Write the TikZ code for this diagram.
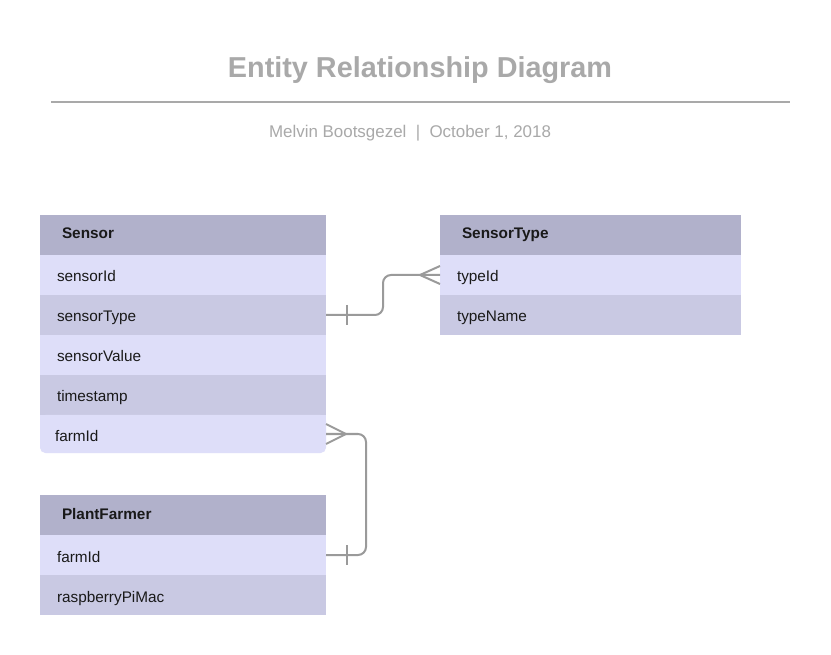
\documentclass[tikz,border=0pt]{standalone}
\usepackage{fontspec}
\setmainfont{Liberation Sans}
\usetikzlibrary{positioning, calc}
\definecolor{hdrblue}{HTML}{B1B1CB}
\definecolor{rowlight}{HTML}{DEDEF9}
\definecolor{rowdark}{HTML}{C9C9E3}
\definecolor{titlegray}{HTML}{A9A9A9}
\definecolor{linkgray}{HTML}{9A9A9A}

\begin{document}
\begin{tikzpicture}[x=0.75pt, y=-0.75pt,
    ent/.style={anchor=north west, outer sep=0pt, inner ysep=0pt, minimum height=30pt,
      align=left, text=black!90, font=\fontsize{11.5}{13}\selectfont},
    hdr/.style={ent, fill=hdrblue, inner xsep=16.5pt, text width=#1,
      text height=8.5pt, text depth=2.5pt,
      font=\fontsize{11.5}{13}\selectfont\bfseries},
    rowA/.style={ent, fill=rowlight, inner xsep=12.75pt, text width=#1,
      text height=10.75pt, text depth=0.25pt},
    rowB/.style={rowA=#1, fill=rowdark},
    link/.style={draw=linkgray, line width=1.5pt}]
  \useasboundingbox[fill=white] (0,0) rectangle (831,655);

  % Titel
  \node[font=\fontsize{21.6}{24}\selectfont\bfseries, text=titlegray] (title) at (420,70) {Entity Relationship Diagram};
  \draw[titlegray, line width=1.5pt] (51,102) -- (790,102);
  \node[font=\fontsize{12.7}{15}\selectfont, text=titlegray] (subtitle) at (410,133)
    {Melvin Bootsgezel\hspace{7pt}|\hspace{7pt}October 1, 2018};

  % Sensor
  \node[hdr=181.5pt] (sensorHdr) at (40,215) {Sensor};
  \node[rowA=189pt, below=0pt of sensorHdr] (sensorId) {sensorId};
  \node[rowB=189pt, below=0pt of sensorId] (sensorType) {sensorType};
  \node[rowA=189pt, below=0pt of sensorType] (sensorValue) {sensorValue};
  \node[rowB=189pt, below=0pt of sensorValue] (timestamp) {timestamp};
  \node[rowA=192pt, inner xsep=11.25pt, minimum height=28.5pt, rounded corners=4pt, below=0pt of timestamp] (farmIdS) {farmId};
  \fill[rowlight] (farmIdS.north west) rectangle ($(farmIdS.north east)+(0,8)$);

  % SensorType
  \node[hdr=192.75pt] (typeHdr) at (440,215) {SensorType};
  \node[rowA=200.25pt, below=0pt of typeHdr] (typeId) {typeId};
  \node[rowB=200.25pt, below=0pt of typeId] (typeName) {typeName};

  % PlantFarmer
  \node[hdr=181.5pt] (farmerHdr) at (40,495) {PlantFarmer};
  \node[rowA=189pt, below=0pt of farmerHdr] (farmIdP) {farmId};
  \node[rowB=189pt, below=0pt of farmIdP] (piMac) {raspberryPiMac};

  % Sensor -> SensorType
  \draw[link, rounded corners=6pt] (sensorType.east) -- ++(57,0) |- (typeId.west);
  \draw[link] ($(sensorType.east)+(21,-10)$) -- ($(sensorType.east)+(21,10)$);
  \draw[link] ($(typeId.west)+(-20,0)$) -- ($(typeId.west)+(0,-9)$);
  \draw[link] ($(typeId.west)+(-20,0)$) -- ($(typeId.west)+(0,9)$);

  % Sensor -> PlantFarmer
  \draw[link, rounded corners=6pt] (farmIdS.east) -- ++(40,0) |- (farmIdP.east);
  \draw[link] ($(farmIdS.east)+(20,0)$) -- ($(farmIdS.east)+(0,-10)$);
  \draw[link] ($(farmIdS.east)+(20,0)$) -- ($(farmIdS.east)+(0,10)$);
  \draw[link] ($(farmIdP.east)+(21,-10)$) -- ($(farmIdP.east)+(21,10)$);
\end{tikzpicture}
\end{document}
